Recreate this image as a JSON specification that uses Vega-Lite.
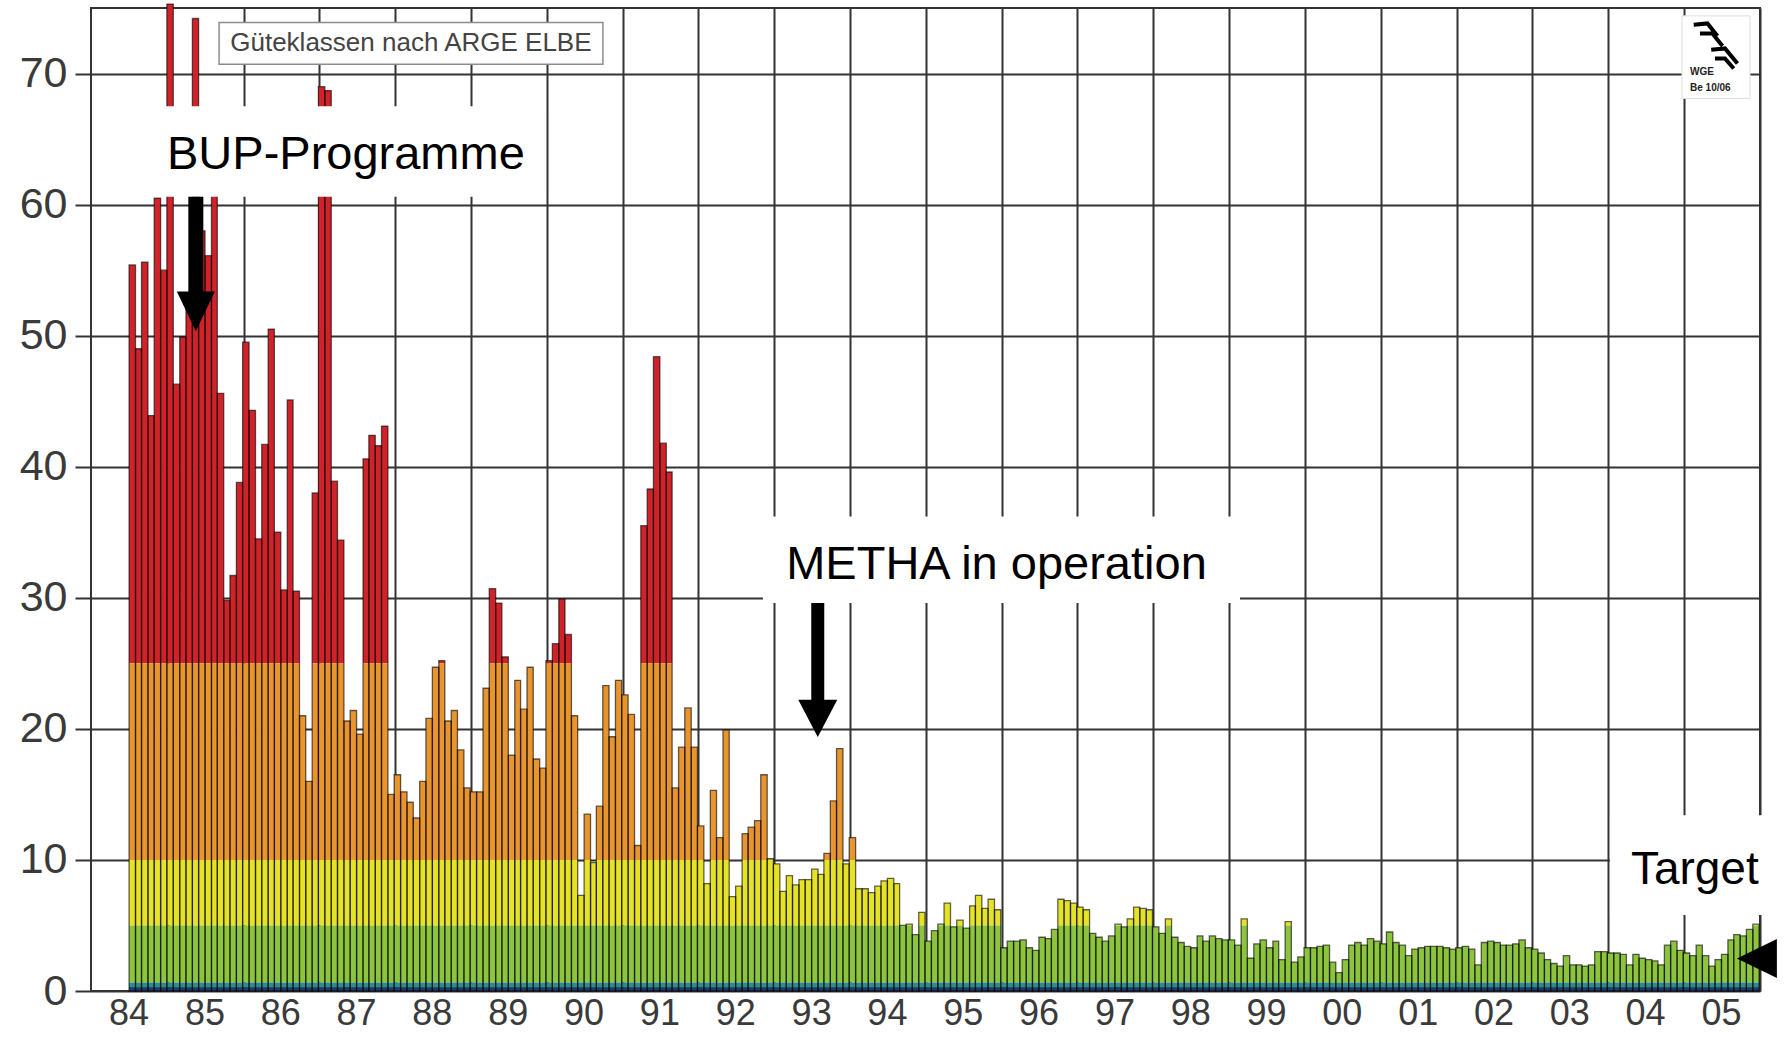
{
"$schema": "https://vega.github.io/schema/vega-lite/v6.json",
"width": 1669, "height": 983,
"autosize": "none",
"padding": {"left": 91, "top": 8, "right": 32, "bottom": 47},
"background": "white",
"config": {"view": {"stroke": "#333333", "strokeWidth": 2}, "font": "Liberation Sans", "axis": {"titleOpacity": 0}},
"data": {"values": [
{"m":"1984-01","v":55.4},{"m":"1984-02","v":49.0},{"m":"1984-03","v":55.6},{"m":"1984-04","v":43.9},{"m":"1984-05","v":60.5},{"m":"1984-06","v":55.0},{"m":"1984-07","v":75.3},{"m":"1984-08","v":46.3},{"m":"1984-09","v":49.9},{"m":"1984-10","v":52.0},{"m":"1984-11","v":74.2},{"m":"1984-12","v":58.0},
{"m":"1985-01","v":56.1},{"m":"1985-02","v":64.0},{"m":"1985-03","v":45.6},{"m":"1985-04","v":29.8},{"m":"1985-05","v":31.7},{"m":"1985-06","v":38.8},{"m":"1985-07","v":49.5},{"m":"1985-08","v":44.3},{"m":"1985-09","v":34.5},{"m":"1985-10","v":41.7},{"m":"1985-11","v":50.5},{"m":"1985-12","v":35.0},
{"m":"1986-01","v":30.6},{"m":"1986-02","v":45.1},{"m":"1986-03","v":30.5},{"m":"1986-04","v":21.0},{"m":"1986-05","v":16.0},{"m":"1986-06","v":38.0},{"m":"1986-07","v":69.0},{"m":"1986-08","v":68.7},{"m":"1986-09","v":38.9},{"m":"1986-10","v":34.4},{"m":"1986-11","v":20.6},{"m":"1986-12","v":21.4},
{"m":"1987-01","v":19.6},{"m":"1987-02","v":40.6},{"m":"1987-03","v":42.4},{"m":"1987-04","v":41.6},{"m":"1987-05","v":43.1},{"m":"1987-06","v":15.0},{"m":"1987-07","v":16.5},{"m":"1987-08","v":15.2},{"m":"1987-09","v":14.4},{"m":"1987-10","v":13.2},{"m":"1987-11","v":16.0},{"m":"1987-12","v":20.8},
{"m":"1988-01","v":24.7},{"m":"1988-02","v":25.2},{"m":"1988-03","v":20.6},{"m":"1988-04","v":21.4},{"m":"1988-05","v":18.4},{"m":"1988-06","v":15.5},{"m":"1988-07","v":15.2},{"m":"1988-08","v":15.2},{"m":"1988-09","v":23.1},{"m":"1988-10","v":30.7},{"m":"1988-11","v":29.6},{"m":"1988-12","v":25.5},
{"m":"1989-01","v":18.0},{"m":"1989-02","v":23.7},{"m":"1989-03","v":21.5},{"m":"1989-04","v":24.7},{"m":"1989-05","v":17.7},{"m":"1989-06","v":17.0},{"m":"1989-07","v":25.2},{"m":"1989-08","v":26.5},{"m":"1989-09","v":29.9},{"m":"1989-10","v":27.2},{"m":"1989-11","v":21.0},{"m":"1989-12","v":7.3},
{"m":"1990-01","v":13.5},{"m":"1990-02","v":9.8},{"m":"1990-03","v":14.1},{"m":"1990-04","v":23.3},{"m":"1990-05","v":19.4},{"m":"1990-06","v":23.7},{"m":"1990-07","v":22.6},{"m":"1990-08","v":21.1},{"m":"1990-09","v":11.1},{"m":"1990-10","v":35.5},{"m":"1990-11","v":38.3},{"m":"1990-12","v":48.4},
{"m":"1991-01","v":41.8},{"m":"1991-02","v":39.6},{"m":"1991-03","v":15.5},{"m":"1991-04","v":18.6},{"m":"1991-05","v":21.6},{"m":"1991-06","v":18.6},{"m":"1991-07","v":12.6},{"m":"1991-08","v":8.2},{"m":"1991-09","v":15.3},{"m":"1991-10","v":11.7},{"m":"1991-11","v":19.9},{"m":"1991-12","v":7.2},
{"m":"1992-01","v":8.0},{"m":"1992-02","v":12.0},{"m":"1992-03","v":12.5},{"m":"1992-04","v":13.0},{"m":"1992-05","v":16.5},{"m":"1992-06","v":10.1},{"m":"1992-07","v":9.7},{"m":"1992-08","v":7.6},{"m":"1992-09","v":8.8},{"m":"1992-10","v":8.1},{"m":"1992-11","v":8.5},{"m":"1992-12","v":8.5},
{"m":"1993-01","v":9.3},{"m":"1993-02","v":8.9},{"m":"1993-03","v":10.5},{"m":"1993-04","v":14.5},{"m":"1993-05","v":18.5},{"m":"1993-06","v":9.7},{"m":"1993-07","v":11.7},{"m":"1993-08","v":7.8},{"m":"1993-09","v":7.8},{"m":"1993-10","v":7.5},{"m":"1993-11","v":8.0},{"m":"1993-12","v":8.4},
{"m":"1994-01","v":8.6},{"m":"1994-02","v":8.2},{"m":"1994-03","v":5.0},{"m":"1994-04","v":5.1},{"m":"1994-05","v":4.3},{"m":"1994-06","v":6.0},{"m":"1994-07","v":3.8},{"m":"1994-08","v":4.6},{"m":"1994-09","v":5.1},{"m":"1994-10","v":6.7},{"m":"1994-11","v":4.9},{"m":"1994-12","v":5.4},
{"m":"1995-01","v":4.8},{"m":"1995-02","v":6.5},{"m":"1995-03","v":7.3},{"m":"1995-04","v":6.3},{"m":"1995-05","v":7.0},{"m":"1995-06","v":6.2},{"m":"1995-07","v":3.3},{"m":"1995-08","v":3.8},{"m":"1995-09","v":3.8},{"m":"1995-10","v":3.9},{"m":"1995-11","v":3.3},{"m":"1995-12","v":3.1},
{"m":"1996-01","v":4.1},{"m":"1996-02","v":4.0},{"m":"1996-03","v":4.7},{"m":"1996-04","v":7.0},{"m":"1996-05","v":6.9},{"m":"1996-06","v":6.7},{"m":"1996-07","v":6.4},{"m":"1996-08","v":6.2},{"m":"1996-09","v":4.4},{"m":"1996-10","v":4.1},{"m":"1996-11","v":3.8},{"m":"1996-12","v":4.2},
{"m":"1997-01","v":5.1},{"m":"1997-02","v":4.9},{"m":"1997-03","v":5.5},{"m":"1997-04","v":6.4},{"m":"1997-05","v":6.3},{"m":"1997-06","v":6.2},{"m":"1997-07","v":4.9},{"m":"1997-08","v":4.4},{"m":"1997-09","v":5.5},{"m":"1997-10","v":4.1},{"m":"1997-11","v":3.7},{"m":"1997-12","v":3.4},
{"m":"1998-01","v":3.3},{"m":"1998-02","v":4.2},{"m":"1998-03","v":3.8},{"m":"1998-04","v":4.2},{"m":"1998-05","v":4.0},{"m":"1998-06","v":3.9},{"m":"1998-07","v":3.9},{"m":"1998-08","v":3.5},{"m":"1998-09","v":5.5},{"m":"1998-10","v":2.5},{"m":"1998-11","v":3.6},{"m":"1998-12","v":3.9},
{"m":"1999-01","v":3.3},{"m":"1999-02","v":3.8},{"m":"1999-03","v":2.4},{"m":"1999-04","v":5.3},{"m":"1999-05","v":2.2},{"m":"1999-06","v":2.6},{"m":"1999-07","v":3.3},{"m":"1999-08","v":3.3},{"m":"1999-09","v":3.4},{"m":"1999-10","v":3.5},{"m":"1999-11","v":2.2},{"m":"1999-12","v":1.4},
{"m":"2000-01","v":2.4},{"m":"2000-02","v":3.5},{"m":"2000-03","v":3.7},{"m":"2000-04","v":3.5},{"m":"2000-05","v":4.0},{"m":"2000-06","v":3.8},{"m":"2000-07","v":3.6},{"m":"2000-08","v":4.5},{"m":"2000-09","v":3.7},{"m":"2000-10","v":3.5},{"m":"2000-11","v":2.7},{"m":"2000-12","v":3.2},
{"m":"2001-01","v":3.3},{"m":"2001-02","v":3.4},{"m":"2001-03","v":3.4},{"m":"2001-04","v":3.4},{"m":"2001-05","v":3.3},{"m":"2001-06","v":3.2},{"m":"2001-07","v":3.3},{"m":"2001-08","v":3.4},{"m":"2001-09","v":3.2},{"m":"2001-10","v":2.0},{"m":"2001-11","v":3.7},{"m":"2001-12","v":3.8},
{"m":"2002-01","v":3.7},{"m":"2002-02","v":3.5},{"m":"2002-03","v":3.5},{"m":"2002-04","v":3.6},{"m":"2002-05","v":3.9},{"m":"2002-06","v":3.3},{"m":"2002-07","v":3.2},{"m":"2002-08","v":2.9},{"m":"2002-09","v":2.4},{"m":"2002-10","v":2.1},{"m":"2002-11","v":1.9},{"m":"2002-12","v":2.7},
{"m":"2003-01","v":2.0},{"m":"2003-02","v":2.0},{"m":"2003-03","v":1.9},{"m":"2003-04","v":2.0},{"m":"2003-05","v":3.0},{"m":"2003-06","v":3.0},{"m":"2003-07","v":2.9},{"m":"2003-08","v":2.9},{"m":"2003-09","v":2.8},{"m":"2003-10","v":2.0},{"m":"2003-11","v":2.8},{"m":"2003-12","v":2.5},
{"m":"2004-01","v":2.4},{"m":"2004-02","v":2.3},{"m":"2004-03","v":2.0},{"m":"2004-04","v":3.5},{"m":"2004-05","v":3.8},{"m":"2004-06","v":3.1},{"m":"2004-07","v":2.9},{"m":"2004-08","v":2.7},{"m":"2004-09","v":3.5},{"m":"2004-10","v":2.7},{"m":"2004-11","v":1.9},{"m":"2004-12","v":2.4},
{"m":"2005-01","v":2.8},{"m":"2005-02","v":3.9},{"m":"2005-03","v":4.3},{"m":"2005-04","v":4.2},{"m":"2005-05","v":4.7},{"m":"2005-06","v":5.1}
]},
"encoding": {
  "x": {"field": "m", "timeUnit": "utcyearmonth", "type": "temporal",
    "scale": {"type": "utc", "domain": [{"year":1983,"month":7,"date":4,"utc":true},{"year":2005,"month":7,"date":8,"utc":true}]},
    "axis": {"title": null,
      "values": [{"year":1984,"month":1,"date":1,"utc":true},{"year":1985,"month":1,"date":1,"utc":true},{"year":1986,"month":1,"date":1,"utc":true},{"year":1987,"month":1,"date":1,"utc":true},{"year":1988,"month":1,"date":1,"utc":true},{"year":1989,"month":1,"date":1,"utc":true},{"year":1990,"month":1,"date":1,"utc":true},{"year":1991,"month":1,"date":1,"utc":true},{"year":1992,"month":1,"date":1,"utc":true},{"year":1993,"month":1,"date":1,"utc":true},{"year":1994,"month":1,"date":1,"utc":true},{"year":1995,"month":1,"date":1,"utc":true},{"year":1996,"month":1,"date":1,"utc":true},{"year":1997,"month":1,"date":1,"utc":true},{"year":1998,"month":1,"date":1,"utc":true},{"year":1999,"month":1,"date":1,"utc":true},{"year":2000,"month":1,"date":1,"utc":true},{"year":2001,"month":1,"date":1,"utc":true},{"year":2002,"month":1,"date":1,"utc":true},{"year":2003,"month":1,"date":1,"utc":true},{"year":2004,"month":1,"date":1,"utc":true},{"year":2005,"month":1,"date":1,"utc":true}],
      "labelExpr": "utcFormat(datum.value, '%y')",
      "grid": true, "gridColor": "#333333", "gridWidth": 2, "gridOpacity": 1,
      "ticks": false, "domain": false,
      "tickOffset": 39, "labelOffset": -39,
      "labelFontSize": 36, "labelColor": "#3a3a3a", "labelFont": "Liberation Sans",
      "labelPadding": 5, "labelFlush": false, "labelOverlap": false}
  }
},
"layer": [
  {"transform": [{"filter": "datum.v > 25"}],
   "mark": {"type": "bar", "color": "#cf2229", "binSpacing": 0},
   "encoding": {"y": {"field": "v", "type": "quantitative", "stack": null,
      "scale": {"domain": [0, 75], "nice": false, "zero": true},
      "axis": {"title": null, "values": [0,10,20,30,40,50,60,70], "grid": true, "gridColor": "#333333", "gridWidth": 2, "gridOpacity": 1,
        "ticks": true, "tickSize": 16, "tickColor": "#333333", "tickWidth": 2, "domain": false,
        "labelFontSize": 43, "labelColor": "#3a3a3a", "labelFont": "Liberation Sans", "labelPadding": 8, "labelFlush": false}},
     "y2": {"datum": 25}}},
  {"transform": [{"filter": "datum.v > 25"}],
   "mark": {"type": "bar", "color": "#e8952f", "binSpacing": 0},
   "encoding": {"y": {"datum": 25, "type": "quantitative"}, "y2": {"datum": 10}}},
  {"transform": [{"filter": "datum.v > 10 && datum.v <= 25"}],
   "mark": {"type": "bar", "color": "#e8952f", "binSpacing": 0},
   "encoding": {"y": {"field": "v", "type": "quantitative", "stack": null}, "y2": {"datum": 10}}},
  {"transform": [{"filter": "datum.v > 10"}],
   "mark": {"type": "bar", "color": "#e6e228", "binSpacing": 0},
   "encoding": {"y": {"datum": 10, "type": "quantitative"}, "y2": {"datum": 5}}},
  {"transform": [{"filter": "datum.v > 5 && datum.v <= 10"}],
   "mark": {"type": "bar", "color": "#e6e228", "binSpacing": 0},
   "encoding": {"y": {"field": "v", "type": "quantitative", "stack": null}, "y2": {"datum": 5}}},
  {"transform": [{"filter": "datum.v > 5"}],
   "mark": {"type": "bar", "color": "#8cc43e", "binSpacing": 0},
   "encoding": {"y": {"datum": 5, "type": "quantitative"}, "y2": {"datum": 0.65}}},
  {"transform": [{"filter": "datum.v <= 5"}],
   "mark": {"type": "bar", "color": "#8cc43e", "binSpacing": 0},
   "encoding": {"y": {"field": "v", "type": "quantitative", "stack": null}, "y2": {"datum": 0.65}}},
  {"mark": {"type": "bar", "color": "#2b8c8c", "binSpacing": 0},
   "encoding": {"y": {"datum": 0.65, "type": "quantitative"}, "y2": {"datum": 0.3}}},
  {"mark": {"type": "bar", "color": "#1c3c6c", "binSpacing": 0},
   "encoding": {"y": {"datum": 0.3, "type": "quantitative"}, "y2": {"datum": 0}}},
  {"mark": {"type": "bar", "filled": false, "color": "#000000", "strokeOpacity": 0.6, "strokeWidth": 1.3, "binSpacing": 0},
   "encoding": {"y": {"field": "v", "type": "quantitative", "stack": null}, "y2": {"datum": 0}}},

  {"transform": [{"filter": "datum.v == 55.4"}],
   "mark": {"type": "rect", "fill": "white", "stroke": "#8c8c8c", "strokeWidth": 1.5},
   "encoding": {"x": {"datum": 479433600000, "type": "temporal"},
     "x2": {"datum": 639187200000},
     "y": {"datum": 73.9, "type": "quantitative"}, "y2": {"datum": 70.7}}},
  {"transform": [{"filter": "datum.v == 55.4"}],
   "mark": {"type": "text", "text": "Güteklassen nach ARGE ELBE", "fontSize": 26, "font": "Liberation Sans", "color": "#444444", "align": "center", "baseline": "middle"},
   "encoding": {"x": {"datum": 559267200000, "type": "temporal"},
     "y": {"datum": 72.3, "type": "quantitative"}}},

  {"transform": [{"filter": "datum.v == 55.4"}],
   "mark": {"type": "rect", "fill": "white"},
   "encoding": {"x": {"datum": 449020800000, "type": "temporal"},
     "x2": {"datum": 615513600000},
     "y": {"datum": 67.5, "type": "quantitative"}, "y2": {"datum": 60.6}}},
  {"transform": [{"filter": "datum.v == 55.4"}],
   "mark": {"type": "text", "text": "BUP-Programme", "fontSize": 47, "font": "Liberation Sans", "color": "black", "align": "center", "baseline": "alphabetic"},
   "encoding": {"x": {"datum": 532224000000, "type": "temporal"},
     "y": {"datum": 62.7, "type": "quantitative"}}},
  {"transform": [{"filter": "datum.v == 55.4"}],
   "mark": {"type": "rule", "color": "black", "strokeWidth": 15, "strokeCap": "butt"},
   "encoding": {"x": {"datum": 469756800000, "type": "temporal"},
     "y": {"datum": 60.6, "type": "quantitative"}, "y2": {"datum": 53.2}}},
  {"transform": [{"filter": "datum.v == 55.4"}],
   "mark": {"type": "point", "shape": "M-1,-1.05L1,-1.05L0,1.05Z", "size": 1444, "filled": true, "color": "black", "opacity": 1, "strokeWidth": 0},
   "encoding": {"x": {"datum": 469756800000, "type": "temporal"},
     "y": {"datum": 51.85, "type": "quantitative"}}},

  {"transform": [{"filter": "datum.v == 55.4"}],
   "mark": {"type": "rect", "fill": "white"},
   "encoding": {"x": {"datum": 705801600000, "type": "temporal"},
     "x2": {"datum": 904348800000},
     "y": {"datum": 36.2, "type": "quantitative"}, "y2": {"datum": 29.6}}},
  {"transform": [{"filter": "datum.v == 55.4"}],
   "mark": {"type": "text", "text": "METHA in operation", "fontSize": 47, "font": "Liberation Sans", "color": "black", "align": "center", "baseline": "alphabetic"},
   "encoding": {"x": {"datum": 803001600000, "type": "temporal"},
     "y": {"datum": 31.4, "type": "quantitative"}}},
  {"transform": [{"filter": "datum.v == 55.4"}],
   "mark": {"type": "rule", "color": "black", "strokeWidth": 13, "strokeCap": "butt"},
   "encoding": {"x": {"datum": 728611200000, "type": "temporal"},
     "y": {"datum": 29.6, "type": "quantitative"}, "y2": {"datum": 22.1}}},
  {"transform": [{"filter": "datum.v == 55.4"}],
   "mark": {"type": "point", "shape": "M-1,-0.95L1,-0.95L0,0.95Z", "size": 1521, "filled": true, "color": "black", "opacity": 1, "strokeWidth": 0},
   "encoding": {"x": {"datum": 728611200000, "type": "temporal"},
     "y": {"datum": 20.8, "type": "quantitative"}}},

  {"transform": [{"filter": "datum.v == 55.4"}],
   "mark": {"type": "rect", "fill": "white"},
   "encoding": {"x": {"datum": 1058313600000, "type": "temporal"},
     "x2": {"datum": 1133222400000},
     "y": {"datum": 13.4, "type": "quantitative"}, "y2": {"datum": 5.8}}},
  {"transform": [{"filter": "datum.v == 55.4"}],
   "mark": {"type": "text", "text": "Target", "fontSize": 46, "font": "Liberation Sans", "color": "black", "align": "left", "baseline": "alphabetic"},
   "encoding": {"x": {"datum": 1067040000000, "type": "temporal"},
     "y": {"datum": 8.2, "type": "quantitative"}}},
  {"transform": [{"filter": "datum.v == 55.4"}],
   "mark": {"type": "point", "shape": "M1,-0.975L1,0.975L-1,0Z", "size": 1600, "filled": true, "color": "black", "opacity": 1, "strokeWidth": 0},
   "encoding": {"x": {"datum": 1119484800000, "type": "temporal"},
     "y": {"datum": 2.48, "type": "quantitative"}}},

  {"transform": [{"filter": "datum.v == 55.4"}],
   "mark": {"type": "rect", "fill": "white", "stroke": "#dddddd", "strokeWidth": 1},
   "encoding": {"x": {"datum": 1088294400000, "type": "temporal"},
     "x2": {"datum": 1116633600000},
     "y": {"datum": 74.4, "type": "quantitative"}, "y2": {"datum": 68.1}}},
  {"transform": [{"filter": "datum.v == 55.4"}],
   "mark": {"type": "point", "shape": "M-0.85,-0.8L-0.3,-0.85L0.1,-0.35M-0.6,-0.45L-0.1,-0.45L0.3,0.05M-0.15,0.2L0.4,0.15L0.9,0.75M0,0.55L0.4,0.55L0.75,0.95", "size": 2500, "filled": false, "color": "black", "opacity": 1, "strokeWidth": 4},
   "encoding": {"x": {"datum": 1102032000000, "type": "temporal"},
     "y": {"datum": 72.2, "type": "quantitative"}}},
  {"transform": [{"filter": "datum.v == 55.4"}],
   "mark": {"type": "text", "text": "WGE", "fontSize": 10, "fontWeight": "bold", "font": "Liberation Sans", "color": "#222222", "align": "left", "baseline": "alphabetic"},
   "encoding": {"x": {"datum": 1091664000000, "type": "temporal"},
     "y": {"datum": 69.9, "type": "quantitative"}}},
  {"transform": [{"filter": "datum.v == 55.4"}],
   "mark": {"type": "text", "text": "Be 10/06", "fontSize": 10, "fontWeight": "bold", "font": "Liberation Sans", "color": "#222222", "align": "left", "baseline": "alphabetic"},
   "encoding": {"x": {"datum": 1091664000000, "type": "temporal"},
     "y": {"datum": 68.7, "type": "quantitative"}}}
]
}
